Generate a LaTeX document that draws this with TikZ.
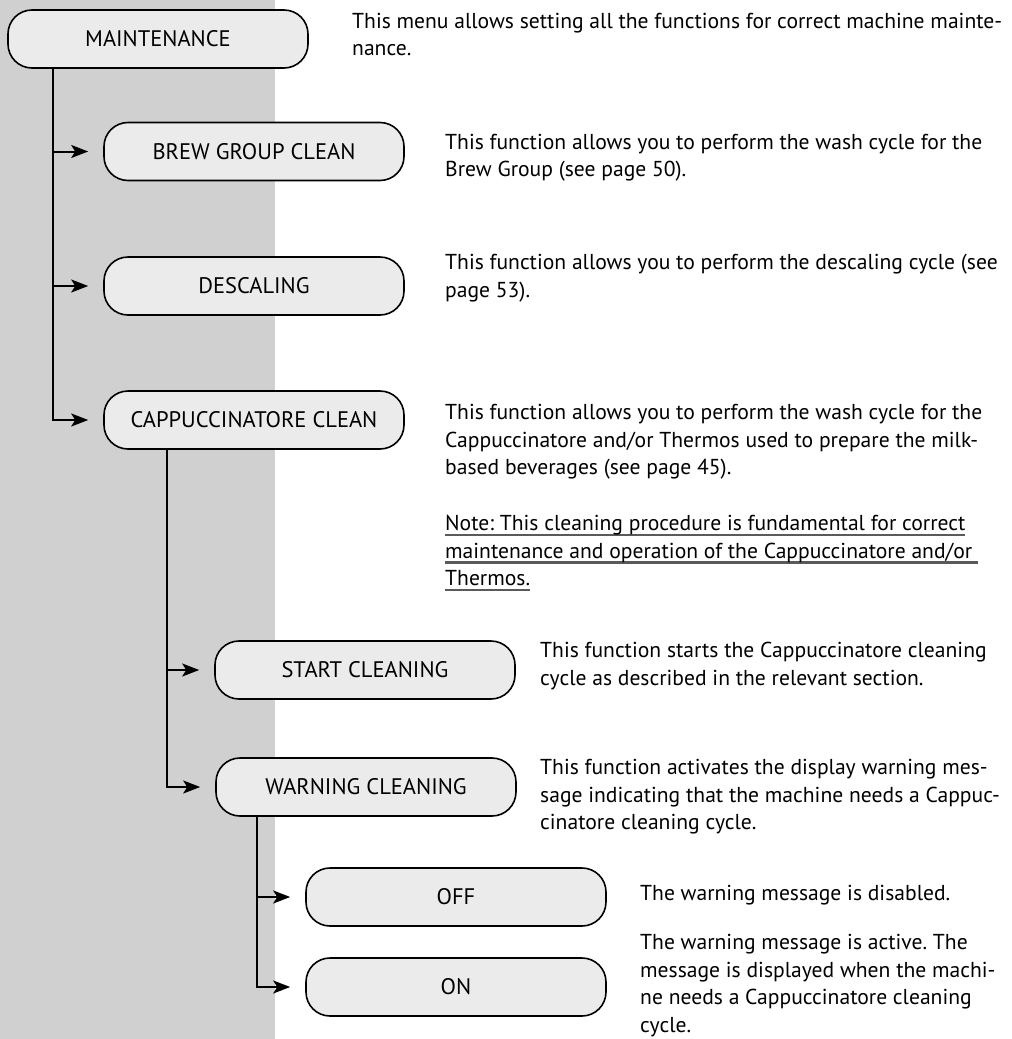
\documentclass[tikz,border=0pt]{standalone}
\usepackage{fontspec}
\setmainfont{PT Sans}
\usepackage{xcolor}
\usetikzlibrary{arrows.meta,positioning}
\definecolor{panelgray}{HTML}{D0D0D0}
\definecolor{boxgray}{HTML}{EBEBEB}
\definecolor{rulegray}{HTML}{5A5A5A}
\frenchspacing
\newcommand\grayul[1]{\setbox0=\hbox{#1}\rlap{\color{rulegray}\rule[-5.5pt]{\wd0}{2.4pt}}\box0}
\tikzset{
 mnt box/.style={draw=black,line width=1.6pt,fill=boxgray,rounded corners=24pt,
                 minimum width=300pt,minimum height=58pt,inner sep=0pt,
                 font=\fontsize{22.5}{27}\selectfont},
 mnt arrow/.style={line width=2pt,-{Stealth[length=17pt,width=13pt,inset=4pt]},
                   shorten >=15pt},
 mnt text/.style={anchor=north west,align=left,inner sep=0pt,
                  font=\fontsize{21.6}{27.5}\selectfont}
}

\begin{document}
\begin{tikzpicture}[x=1pt,y=-1pt]
 \useasboundingbox (0,0) rectangle (1012,1039);
 \fill[white] (0,0) rectangle (1012,1039);
 \fill[panelgray] (0,0) rectangle (275,1039);

 % trunk lines
 \coordinate (t1) at (53,0);
 \coordinate (t2) at (167,0);
 \coordinate (t3) at (257,0);

 % menu boxes
 \node[mnt box] (maint) at (158,39) {MAINTENANCE};
 \node[mnt box] (brew) at (254,151.5) {BREW GROUP CLEAN};
 \node[mnt box] (desc) at (254,286) {DESCALING};
 \node[mnt box] (capp) at (254,420) {CAPPUCCINATORE CLEAN};
 \node[mnt box] (start) at (365,670) {START CLEANING};
 \node[mnt box] (warn) at (366,787) {WARNING CLEANING};
 \node[mnt box] (off) at (456,897) {OFF};
 \node[mnt box] (on) at (456,987) {ON};

 \draw[mnt arrow] (maint.south -| t1) |- (brew.west);
 \draw[mnt arrow] (maint.south -| t1) |- (desc.west);
 \draw[mnt arrow] (maint.south -| t1) |- (capp.west);
 \draw[mnt arrow] (capp.south -| t2) |- (start.west);
 \draw[mnt arrow] (capp.south -| t2) |- (warn.west);
 \draw[mnt arrow] (warn.south -| t3) |- (off.west);
 \draw[mnt arrow] (warn.south -| t3) |- (on.west);

 % descriptions
 \node[mnt text] (maintdesc) at (352,13) {This menu allows setting all the functions for correct machine mainte-\\nance.};
 \node[mnt text] (brewdesc) at (445,134) {This function allows you to perform the wash cycle for the\\Brew Group (see page 50).};
 \node[mnt text] (descdesc) at (445,254) {This function allows you to perform the descaling cycle (see\\page 53).};
 \node[mnt text] (cappdesc) at (445,404) {This function allows you to perform the wash cycle for the\\Cappuccinatore and/or Thermos used to prepare the milk-\\based beverages (see page 45).};
 \node[mnt text] (cappnote) at (445,515) {\grayul{Note: This cleaning procedure is fundamental for correct}\\
   \grayul{maintenance and operation of the Cappuccinatore and/or }\\
   \grayul{Thermos.}};
 \node[mnt text] (startdesc) at (540,642) {This function starts the Cappuccinatore cleaning\\cycle as described in the relevant section.};
 \node[mnt text] (warndesc) at (540,759) {This function activates the display warning mes-\\sage indicating that the machine needs a Cappuc-\\cinatore cleaning cycle.};
 \node[mnt text] (offdesc) at (640,885) {The warning message is disabled.};
 \node[mnt text] (ondesc) at (640,934) {The warning message is active. The\\message is displayed when the machi-\\ne needs a Cappuccinatore cleaning\\cycle.};
\end{tikzpicture}
\end{document}
